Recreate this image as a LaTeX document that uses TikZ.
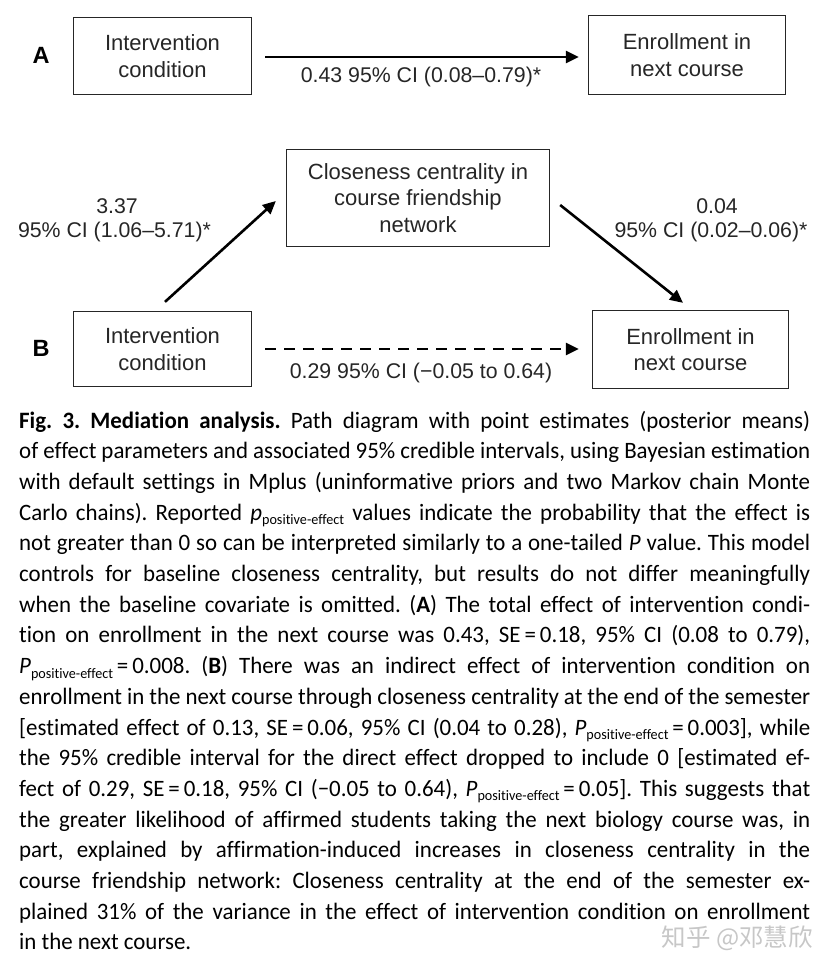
\documentclass[tikz,border=0pt]{standalone}
\usepackage{fontspec}
\setmainfont{Liberation Sans}
\newfontfamily\capfont[Ligatures=NoCommon,FakeStretch=0.975]{Carlito}
\newfontfamily\cjk{Noto Sans CJK SC}
\usetikzlibrary{arrows.meta}
\newcommand\capline[1]{\hbox to\hsize{#1}}
\newcommand\pe{\raisebox{-4.5pt}{\fontsize{14.5}{14.5}\selectfont positive-effect}}
\definecolor{ink}{HTML}{262626}
\begin{document}
\begin{tikzpicture}[x=1pt,y=-1pt,
  box/.style={draw=ink, line width=1.3pt, align=center, inner sep=0pt,
    text=ink, font=\fontsize{22}{26.5}\selectfont},
  lbl/.style={text=ink, font=\fontsize{21.3}{25.5}\selectfont, inner sep=0pt, align=center},
  panel/.style={font=\bfseries\fontsize{23.5}{23.5}\selectfont, inner sep=0pt},
  arr/.style={-{Triangle[length=13pt,width=12pt]}, line width=2.6pt},
  dasharr/.style={arr, dash pattern=on 11pt off 8pt}
  ]
\useasboundingbox[fill=white] (0,0) rectangle (836,974);

% Panel A
\node[panel] (pa) at (41,55) {A};
\node[box, minimum width=178pt, minimum height=77pt] (al) at (162.5,56) {Intervention\\condition};
\node[box, minimum width=197pt, minimum height=79pt] (ar) at (687,55) {Enrollment in\\next course};
\draw[arr] ([xshift=13pt]al.east |- 0,57) coordinate (a1) -- (a1 -| ar.west) [shorten >=9pt];
\node[lbl] (la) at (421,77) {0.43 95\% CI (0.08–0.79)*};

% Panel B
\node[box, minimum width=263pt, minimum height=97pt] (c) at (418,198) {Closeness centrality in\\course friendship\\network};
\node[panel] (pb) at (41,348) {B};
\node[box, minimum width=178pt, minimum height=75pt] (bl) at (162.5,349) {Intervention\\condition};
\node[box, minimum width=196pt, minimum height=78pt] (br) at (690.5,349.5) {Enrollment in\\next course};

\draw[arr] ([xshift=2.5pt,yshift=9pt]bl.north) -- ([xshift=-10pt,yshift=-3pt]c.west);
\draw[arr] ([xshift=10pt,yshift=-7pt]c.east) -- ([xshift=-7.5pt,yshift=7pt]br.north);
\draw[dasharr] ([xshift=13pt]bl.east) -- ([xshift=-13pt]bl.east -| br.west);

\node[lbl] (l1a) at (117,206.5) {3.37};
\node[lbl] (l1b) at (114.5,232) {95\% CI (1.06–5.71)*};
\node[lbl] (l2a) at (717,206.5) {0.04};
\node[lbl] (l2b) at (711,232) {95\% CI (0.02–0.06)*};
\node[lbl] (lb) at (421,373) {0.29 95\% CI (−0.05 to 0.64)};

% Caption
\node[anchor=base west, inner sep=0pt] (cap) at (19,428) {\parbox[t]{791pt}{\capfont\fontsize{23.5}{30.7}\selectfont\frenchspacing
\capline{\textbf{Fig. 3. Mediation analysis.} Path diagram with point estimates (posterior means)}
\capline{of effect parameters and associated 95\% credible intervals, using Bayesian estimation}
\capline{with default settings in Mplus (uninformative priors and two Markov chain Monte}
\capline{Carlo chains). Reported {\itshape p}\pe{} values indicate the probability that the effect is}
\capline{not greater than 0 so can be interpreted similarly to a one-tailed {\itshape P} value. This model}
\capline{controls for baseline closeness centrality, but results do not differ meaningfully}
\capline{when the baseline covariate is omitted. (\textbf{A}) The total effect of intervention condi-}
\capline{tion on enrollment in the next course was 0.43, SE\,=\,0.18, 95\% CI (0.08 to 0.79),}
\capline{{\itshape P}\pe\,=\,0.008. (\textbf{B}) There was an indirect effect of intervention condition on}
\capline{enrollment in the next course through closeness centrality at the end of the semester}
\capline{[estimated effect of 0.13, SE\,=\,0.06, 95\% CI (0.04 to 0.28), {\itshape P}\pe\,=\,0.003], while}
\capline{the 95\% credible interval for the direct effect dropped to include 0 [estimated ef-}
\capline{fect of 0.29, SE\,=\,0.18, 95\% CI (−0.05 to 0.64), {\itshape P}\pe\,=\,0.05]. This suggests that}
\capline{the greater likelihood of affirmed students taking the next biology course was, in}
\capline{part, explained by affirmation-induced increases in closeness centrality in the}
\capline{course friendship network: Closeness centrality at the end of the semester ex-}
\capline{plained 31\% of the variance in the effect of intervention condition on enrollment}
\hbox{in the next course.}
}};
\node[anchor=east, inner sep=0pt, text=black!22, font=\cjk\fontsize{24.5}{24.5}\selectfont] (wm) at (813,938) {知乎 @邓慧欣};
\end{tikzpicture}
\end{document}
